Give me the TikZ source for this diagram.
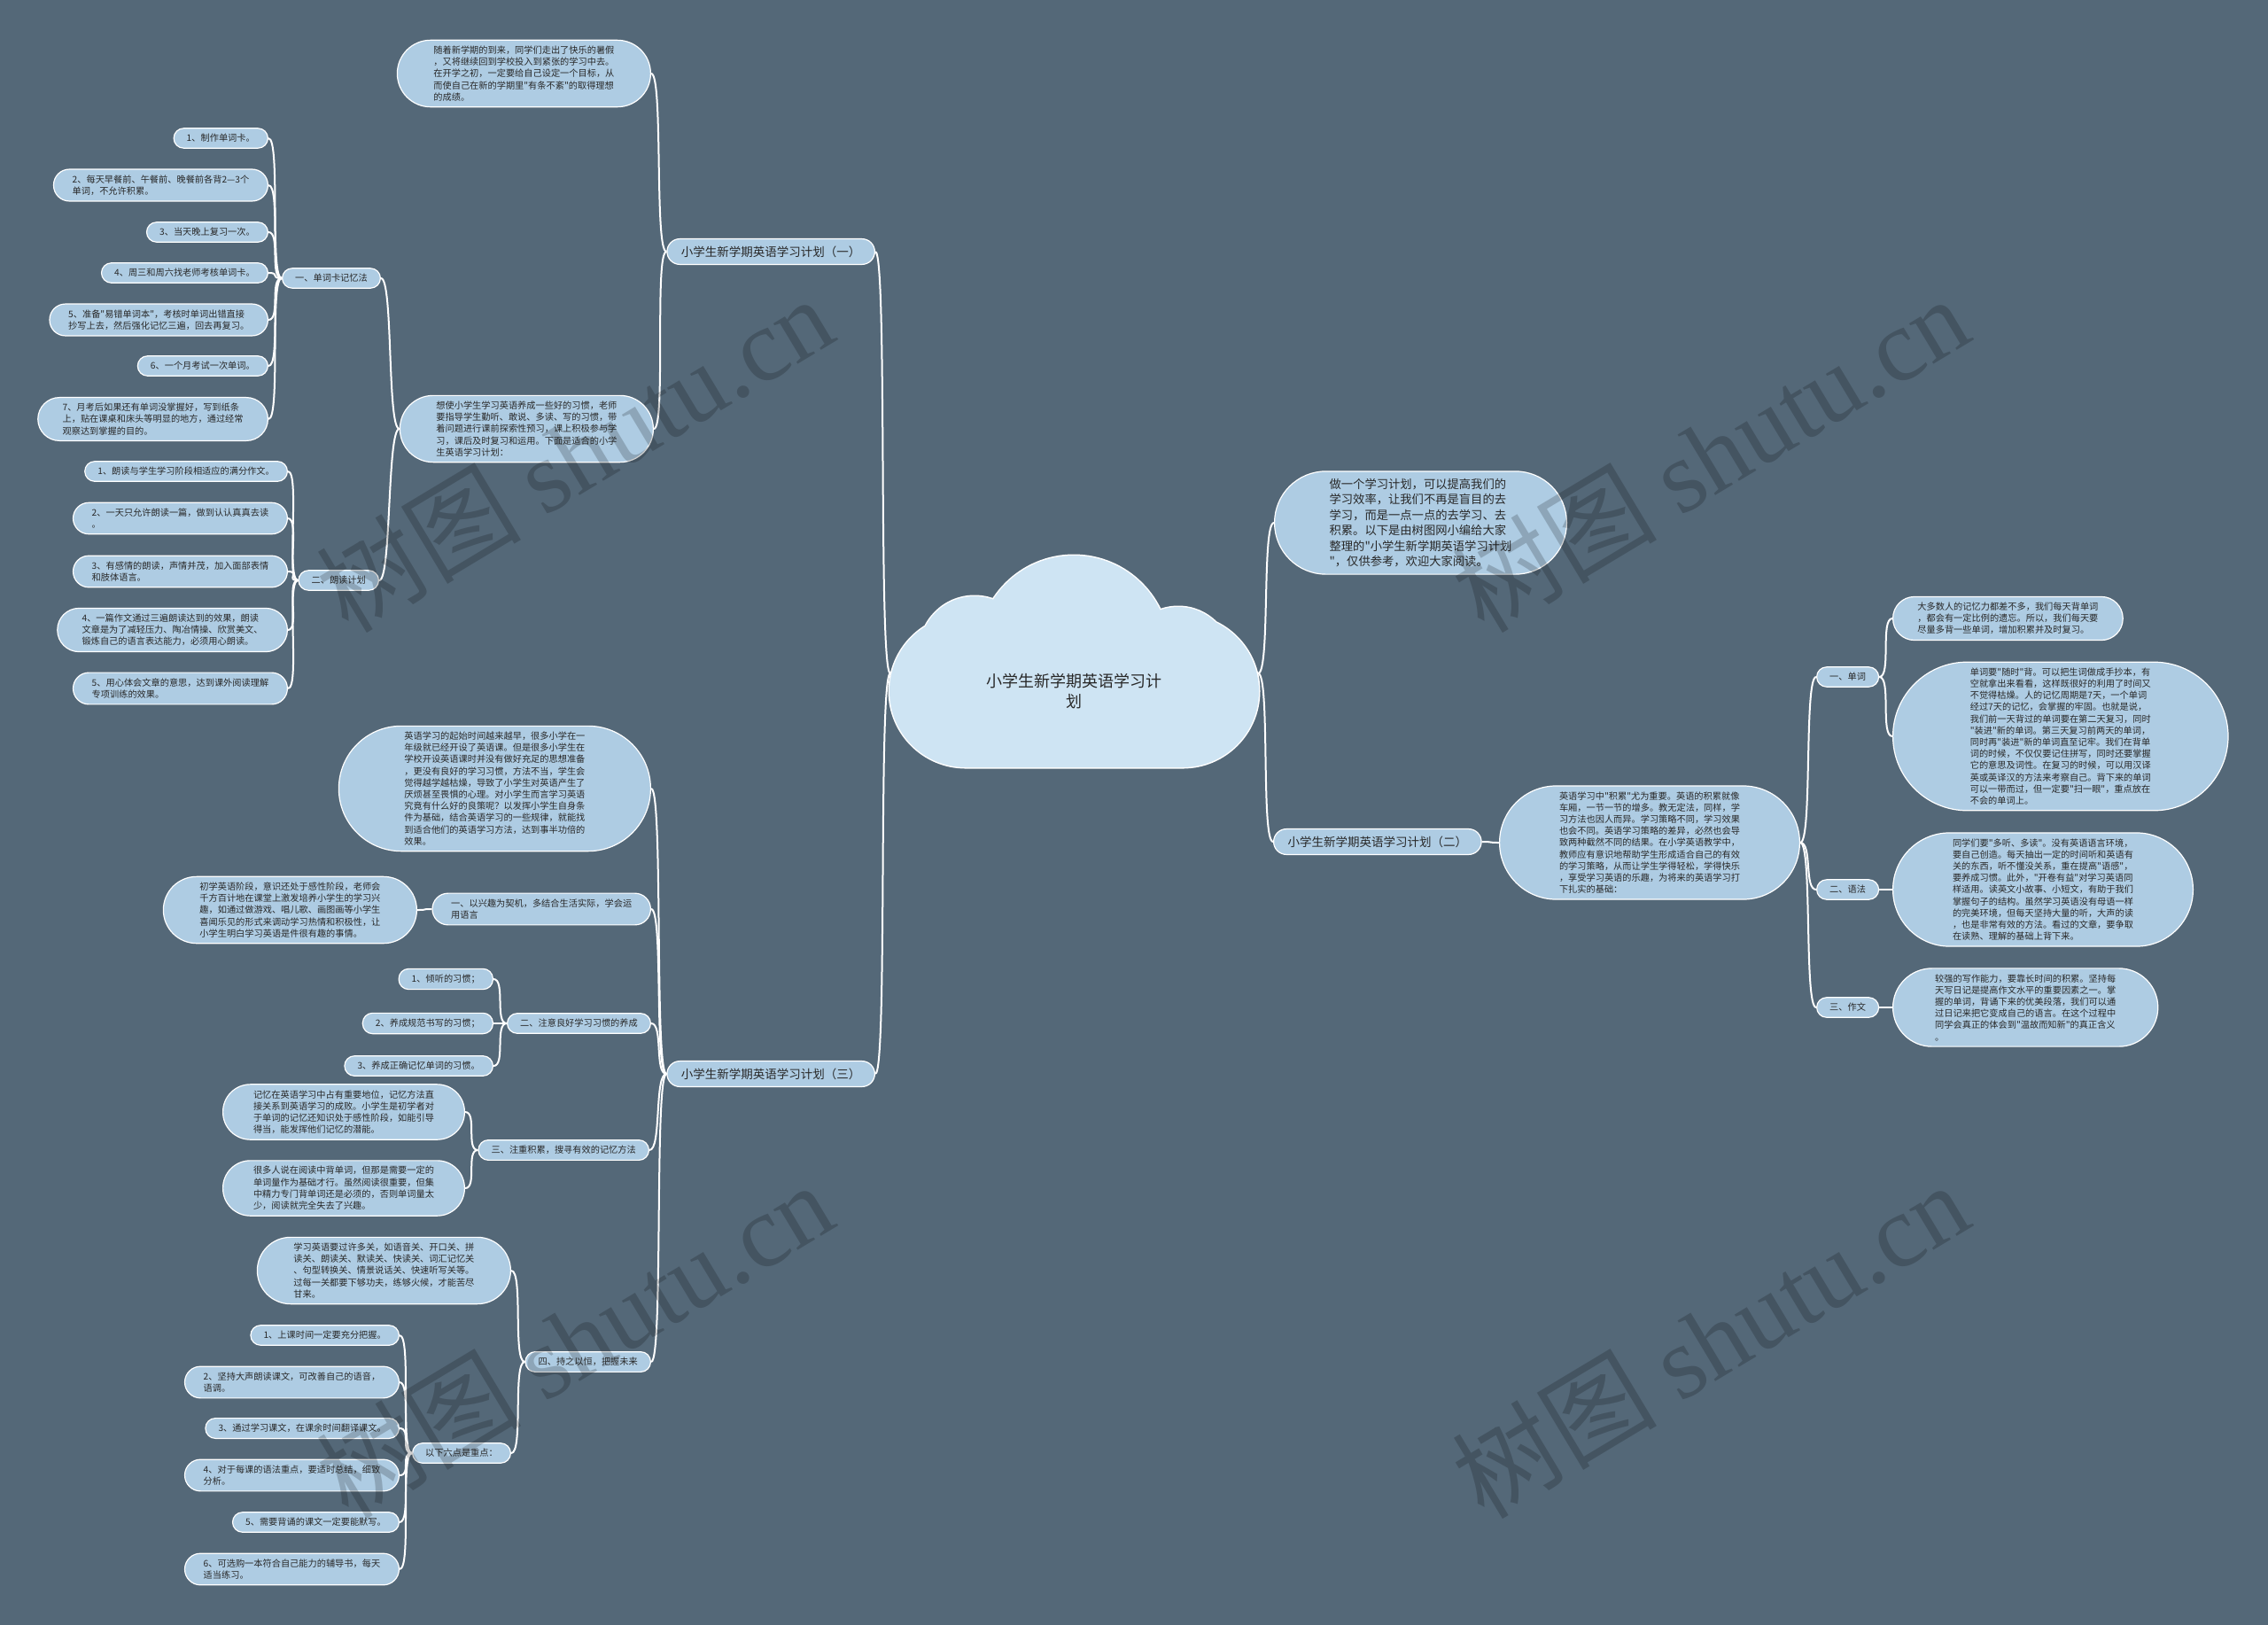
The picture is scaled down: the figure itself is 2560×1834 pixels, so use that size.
\documentclass[tikz,border=0pt]{standalone}
\usepackage{fontspec}
\newfontfamily\cjk{Noto Sans CJK SC}
\newfontfamily\wmlatin{Liberation Serif}
\definecolor{bg}{RGB}{84,104,120}
\definecolor{nodefill}{RGB}{174,204,227}
\definecolor{cloudfill}{RGB}{206,228,243}
\definecolor{textc}{RGB}{40,40,40}
\newcommand{\lconn}[2]{\draw[conn] (#1.west) .. controls +(-14,0) and +(14,0) .. (#2.east);}
\newcommand{\rconn}[2]{\draw[conn] (#1.east) .. controls +(14,0) and +(-14,0) .. (#2.west);}
\begin{document}
\begin{tikzpicture}[x=1pt,y=-1pt,
 bub/.style={shape=rectangle, draw=white, line width=1.2pt, fill=nodefill, align=left, inner ysep=6.5pt, text=textc, font=\cjk\fontsize{10.2}{13.2}\selectfont},
 pill/.code={\pgfmathsetmacro\pillr{6.6*#1+4.6}\pgfmathsetmacro\pillx{6.6*#1+8}\tikzset{bub, rounded corners=\pillr pt, inner xsep=\pillx pt}},
 lab/.style={bub, rounded corners=14.5pt, inner xsep=16pt, inner ysep=8pt, font=\cjk\fontsize{13.5}{16}\selectfont},
 intro/.style={bub, rounded corners=58pt, inner xsep=62pt, inner ysep=8pt, font=\cjk\fontsize{13.3}{17.5}\selectfont},
 conn/.style={draw=white, line width=2pt},
 wmark/.style={rotate=31, text=black, opacity=0.19, font=\cjk\fontsize{116}{116}\selectfont},
]
\fill[bg] (0,0) rectangle (2560,1834);

% cloud
\path[draw=white, line width=3pt] (1090,780) circle (86) (1335,780) circle (86) (1212,735) circle (108) (1100,735) circle (62) (1330,745) circle (60) (1090,866) rectangle (1335,700);
\path[fill=cloudfill] (1090,780) circle (86) (1335,780) circle (86) (1212,735) circle (108) (1100,735) circle (62) (1330,745) circle (60) (1090,866) rectangle (1335,700);
\node[align=center, text=textc, font=\cjk\fontsize{18}{23}\selectfont] (root) at (1212,780) {小学生新学期英语学习计\\划};
\coordinate (rootL) at (1005,760);
\coordinate (rootR) at (1420,760);

% level 1
\node[lab, anchor=east] (L1a) at (988,284) {小学生新学期英语学习计划（一）};
\node[lab, anchor=east] (L1c) at (988,1212) {小学生新学期英语学习计划（三）};
\node[intro, anchor=west] (R0) at (1438,590) {做一个学习计划，可以提高我们的\\学习效率，让我们不再是盲目的去\\学习，而是一点一点的去学习、去\\积累。以下是由树图网小编给大家\\整理的"小学生新学期英语学习计划\\"，仅供参考，欢迎大家阅读。};
\node[lab, anchor=west] (L1b) at (1437,950) {小学生新学期英语学习计划（二）};

% plan one
\node[pill=5, anchor=east] (P1) at (735,83) {随着新学期的到来，同学们走出了快乐的暑假\\，又将继续回到学校投入到紧张的学习中去。\\在开学之初，一定要给自己设定一个目标，从\\而使自己在新的学期里"有条不紊"的取得理想\\的成绩。};
\node[pill=5, anchor=east] (P2) at (738,484) {想使小学生学习英语养成一些好的习惯，老师\\要指导学生勤听、敢说、多读、写的习惯，带\\着问题进行课前探索性预习，课上积极参与学\\习，课后及时复习和运用。下面是适合的小学\\生英语学习计划：};
\node[pill=1, anchor=east] (L2a) at (430,314) {一、单词卡记忆法};
\node[pill=1, anchor=east] (L2b) at (428,655) {二、朗读计划};
\node[pill=1, anchor=east] (i1) at (303,156) {1、制作单词卡。};
\node[pill=2, anchor=east] (i2) at (303,209) {2、每天早餐前、午餐前、晚餐前各背2—3个\\单词，不允许积累。};
\node[pill=1, anchor=east] (i3) at (303,262) {3、当天晚上复习一次。};
\node[pill=1, anchor=east] (i4) at (303,308) {4、周三和周六找老师考核单词卡。};
\node[pill=2, anchor=east] (i5) at (303,361) {5、准备"易错单词本"，考核时单词出错直接\\抄写上去，然后强化记忆三遍，回去再复习。};
\node[pill=1, anchor=east] (i6) at (303,413) {6、一个月考试一次单词。};
\node[pill=3, anchor=east] (i7) at (303,473) {7、月考后如果还有单词没掌握好，写到纸条\\上，贴在课桌和床头等明显的地方，通过经常\\观察达到掌握的目的。};
\node[pill=1, anchor=east] (j1) at (325,532) {1、朗读与学生学习阶段相适应的满分作文。};
\node[pill=2, anchor=east] (j2) at (325,585) {2、一天只允许朗读一篇，做到认认真真去读\\。};
\node[pill=2, anchor=east] (j3) at (325,645) {3、有感情的朗读，声情并茂，加入面部表情\\和肢体语言。};
\node[pill=3, anchor=east] (j4) at (325,711) {4、一篇作文通过三遍朗读达到的效果，朗读\\文章是为了减轻压力、陶冶情操、欣赏美文、\\锻炼自己的语言表达能力，必须用心朗读。};
\node[pill=2, anchor=east] (j5) at (325,777) {5、用心体会文章的意思，达到课外阅读理解\\专项训练的效果。};

% plan three
\node[pill=10, anchor=east] (P3) at (735,890) {英语学习的起始时间越来越早，很多小学在一\\年级就已经开设了英语课。但是很多小学生在\\学校开设英语课时并没有做好充足的思想准备\\，更没有良好的学习习惯，方法不当，学生会\\觉得越学越枯燥，导致了小学生对英语产生了\\厌烦甚至畏惧的心理。对小学生而言学习英语\\究竟有什么好的良策呢？以发挥小学生自身条\\件为基础，结合英语学习的一些规律，就能找\\到适合他们的英语学习方法，达到事半功倍的\\效果。};
\node[pill=2, anchor=east] (S1) at (735,1026) {一、以兴趣为契机，多结合生活实际，学会运\\用语言};
\node[pill=5, anchor=east] (S1p) at (471,1027) {初学英语阶段，意识还处于感性阶段，老师会\\千方百计地在课堂上激发培养小学生的学习兴\\趣，如通过做游戏、唱儿歌、画图画等小学生\\喜闻乐见的形式来调动学习热情和积极性，让\\小学生明白学习英语是件很有趣的事情。};
\node[pill=1, anchor=east] (S2) at (735,1155) {二、注意良好学习习惯的养成};
\node[pill=1, anchor=east] (k1) at (557,1105) {1、倾听的习惯；};
\node[pill=1, anchor=east] (k2) at (557,1155) {2、养成规范书写的习惯；};
\node[pill=1, anchor=east] (k3) at (557,1203) {3、养成正确记忆单词的习惯。};
\node[pill=1, anchor=east] (S3) at (733,1298) {三、注重积累，搜寻有效的记忆方法};
\node[pill=4, anchor=east] (q1) at (525,1255) {记忆在英语学习中占有重要地位，记忆方法直\\接关系到英语学习的成败。小学生是初学者对\\于单词的记忆还知识处于感性阶段，如能引导\\得当，能发挥他们记忆的潜能。};
\node[pill=4, anchor=east] (q2) at (525,1341) {很多人说在阅读中背单词，但那是需要一定的\\单词量作为基础才行。虽然阅读很重要，但集\\中精力专门背单词还是必须的，否则单词量太\\少，阅读就完全失去了兴趣。};
\node[pill=1, anchor=east] (S4) at (735,1537) {四、持之以恒，把握未来};
\node[pill=5, anchor=east] (r0) at (577,1434) {学习英语要过许多关，如语音关、开口关、拼\\读关、朗读关、默读关、快读关、词汇记忆关\\、句型转换关、情景说话关、快速听写关等。\\过每一关都要下够功夫，练够火候，才能苦尽\\甘来。};
\node[pill=1, anchor=east] (T) at (577,1640) {以下六点是重点：};
\node[pill=1, anchor=east] (t1) at (451,1507) {1、上课时间一定要充分把握。};
\node[pill=2, anchor=east] (t2) at (451,1560) {2、坚持大声朗读课文，可改善自己的语音，\\语调。};
\node[pill=1, anchor=east] (t3) at (451,1612) {3、通过学习课文，在课余时间翻译课文。};
\node[pill=2, anchor=east] (t4) at (451,1665) {4、对于每课的语法重点，要适时总结，细致\\分析。};
\node[pill=1, anchor=east] (t5) at (451,1718) {5、需要背诵的课文一定要能默写。};
\node[pill=2, anchor=east] (t6) at (451,1771) {6、可选购一本符合自己能力的辅导书，每天\\适当练习。};

% plan two
\node[pill=9, anchor=west] (P4) at (1692,951) {英语学习中"积累"尤为重要。英语的积累就像\\车厢，一节一节的增多。教无定法，同样，学\\习方法也因人而异。学习策略不同，学习效果\\也会不同。英语学习策略的差异，必然也会导\\致两种截然不同的结果。在小学英语教学中，\\教师应有意识地帮助学生形成适合自己的有效\\的学习策略，从而让学生学得轻松，学得快乐\\，享受学习英语的乐趣，为将来的英语学习打\\下扎实的基础：};
\node[pill=1, anchor=west] (U1) at (2050,764) {一、单词};
\node[pill=1, anchor=west] (U2) at (2050,1004) {二、语法};
\node[pill=1, anchor=west] (U3) at (2050,1137) {三、作文};
\node[pill=3, anchor=west] (v1) at (2136,698) {大多数人的记忆力都差不多，我们每天背单词\\，都会有一定比例的遗忘。所以，我们每天要\\尽量多背一些单词，增加积累并及时复习。};
\node[pill=12, anchor=west] (v2) at (2136,831) {单词要"随时"背。可以把生词做成手抄本，有\\空就拿出来看看，这样既很好的利用了时间又\\不觉得枯燥。人的记忆周期是7天，一个单词\\经过7天的记忆，会掌握的牢固。也就是说，\\我们前一天背过的单词要在第二天复习，同时\\"装进"新的单词。第三天复习前两天的单词，\\同时再"装进"新的单词直至记牢。我们在背单\\词的时候，不仅仅要记住拼写，同时还要掌握\\它的意思及词性。在复习的时候，可以用汉译\\英或英译汉的方法来考察自己。背下来的单词\\可以一带而过，但一定要"扫一眼"，重点放在\\不会的单词上。};
\node[pill=9, anchor=west] (w1) at (2136,1004) {同学们要"多听、多读"。没有英语语言环境，\\要自己创造。每天抽出一定的时间听和英语有\\关的东西，听不懂没关系，重在提高"语感"，\\要养成习惯。此外，"开卷有益"对学习英语同\\样适用。读英文小故事、小短文，有助于我们\\掌握句子的结构。虽然学习英语没有母语一样\\的完美环境，但每天坚持大量的听，大声的读\\，也是非常有效的方法。看过的文章，要争取\\在读熟、理解的基础上背下来。};
\node[pill=6, anchor=west] (x1) at (2136,1137) {较强的写作能力，要靠长时间的积累。坚持每\\天写日记是提高作文水平的重要因素之一。掌\\握的单词，背诵下来的优美段落，我们可以通\\过日记来把它变成自己的语言。在这个过程中\\同学会真正的体会到"温故而知新"的真正含义\\。};

% connectors
\draw[conn] (rootL) .. controls +(-14,0) and +(14,0) .. (L1a.east);
\draw[conn] (rootL) .. controls +(-14,0) and +(14,0) .. (L1c.east);
\draw[conn] (rootR) .. controls +(14,0) and +(-14,0) .. (R0.west);
\draw[conn] (rootR) .. controls +(14,0) and +(-14,0) .. (L1b.west);
\lconn{L1a}{P1}\lconn{L1a}{P2}
\lconn{P2}{L2a}\lconn{P2}{L2b}
\lconn{L2a}{i1}\lconn{L2a}{i2}\lconn{L2a}{i3}\lconn{L2a}{i4}\lconn{L2a}{i5}\lconn{L2a}{i6}\lconn{L2a}{i7}
\lconn{L2b}{j1}\lconn{L2b}{j2}\lconn{L2b}{j3}\lconn{L2b}{j4}\lconn{L2b}{j5}
\lconn{L1c}{P3}\lconn{L1c}{S1}\lconn{L1c}{S2}\lconn{L1c}{S3}\lconn{L1c}{S4}
\lconn{S1}{S1p}
\lconn{S2}{k1}\lconn{S2}{k2}\lconn{S2}{k3}
\lconn{S3}{q1}\lconn{S3}{q2}
\lconn{S4}{r0}\lconn{S4}{T}
\lconn{T}{t1}\lconn{T}{t2}\lconn{T}{t3}\lconn{T}{t4}\lconn{T}{t5}\lconn{T}{t6}
\rconn{L1b}{P4}
\rconn{P4}{U1}\rconn{P4}{U2}\rconn{P4}{U3}
\rconn{U1}{v1}\rconn{U1}{v2}\rconn{U2}{w1}\rconn{U3}{x1}

% watermarks
\node[wmark] (wm1) at (648,512) {树图 {\wmlatin shutu.cn}};
\node[wmark] (wm2) at (1930,512) {树图 {\wmlatin shutu.cn}};
\node[wmark] (wm3) at (648,1512) {树图 {\wmlatin shutu.cn}};
\node[wmark] (wm4) at (1930,1512) {树图 {\wmlatin shutu.cn}};
\end{tikzpicture}
\end{document}
